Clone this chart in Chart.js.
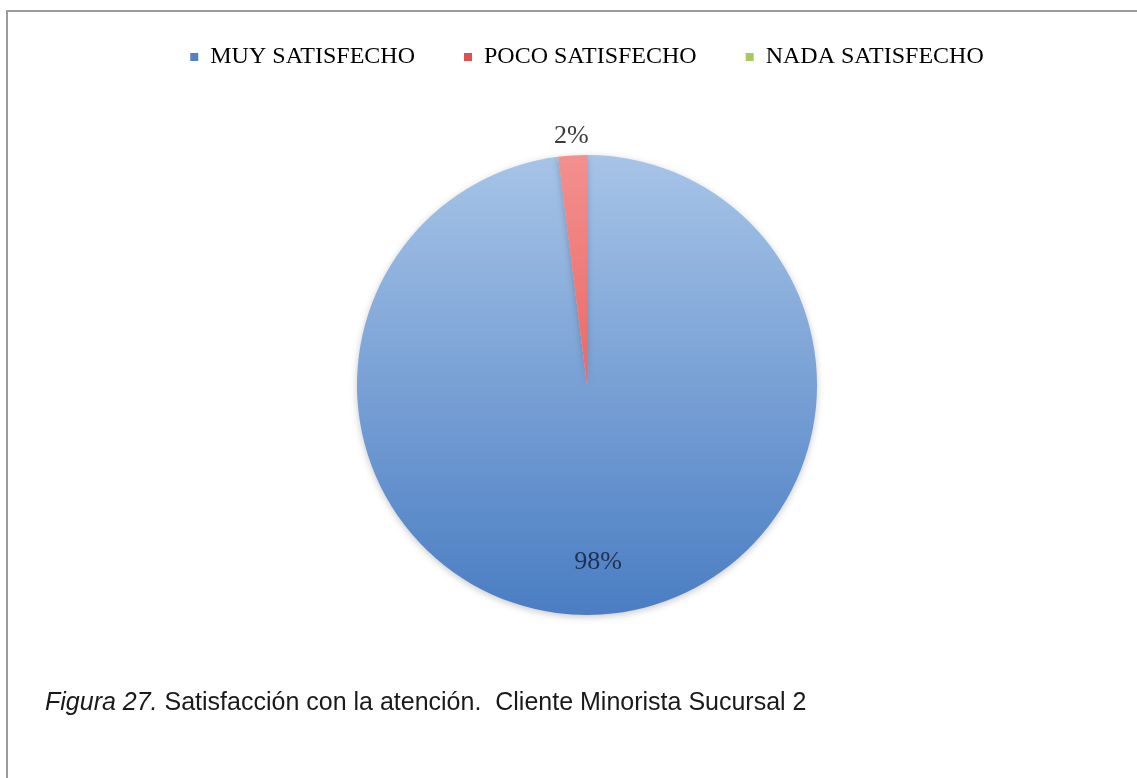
<!DOCTYPE html>
<html lang="es">
<head>
<meta charset="utf-8">
<title>Satisfacción con la atención</title>
<script src="https://cdn.jsdelivr.net/npm/chart.js@4.4.1/dist/chart.umd.min.js"></script>
<style>
  html, body { margin: 0; padding: 0; background: #fff; }
  body { width: 1137px; height: 778px; position: relative; overflow: hidden; }
  .frame { position: absolute; left: 6px; top: 10px; right: -4px; bottom: -4px;
           border-top: 2px solid #9b9b9b; border-left: 2px solid #9b9b9b; }
  #chartWrap { position: absolute; left: 0; top: -4px; width: 1137px; height: 695px; }
  .caption { position: absolute; left: 45px; top: 689px; font-size: 25px; line-height: 25px;
             font-family: "Liberation Sans", Arial, sans-serif; color: #1a1a1a; white-space: pre; }
</style>
</head>
<body>
<div class="frame"></div>
<div id="chartWrap"><canvas id="pieChart"></canvas></div>
<div class="caption"><em>Figura 27.</em> Satisfacción con la atención.  Cliente Minorista Sucursal 2</div>
<script>
// answers and their share of respondents (%)
const categories = ['MUY SATISFECHO', 'POCO SATISFECHO', 'NADA SATISFECHO'];
const percentages = [98, 2, 0];

// palette: legend swatch, gradient top, gradient bottom
const legendColors = ['#5082c4', '#e0504e', '#a6ca62'];
const sliceTop = ['#a7c4e7', '#f3908e', '#c4dd8c'];
const sliceBottom = ['#4a7dc3', '#e2413f', '#8cb04a'];

const PIE_RADIUS = 230;

// vertical gradient spanning the whole pie
function sliceFill(ctx) {
    const chart = ctx.chart;
    const i = ctx.dataIndex;
    const area = chart.chartArea;
    if (!area || i === undefined) return legendColors[i] || legendColors[0];
    const cy = (area.top + area.bottom) / 2;
    const g = chart.ctx.createLinearGradient(0, cy - PIE_RADIUS, 0, cy + PIE_RADIUS);
    g.addColorStop(0, sliceTop[i]);
    g.addColorStop(1, sliceBottom[i]);
    return g;
}

// soft drop shadow under the pie
const pieShadow = {
    id: 'pieShadow',
    beforeDatasetDraw(chart) {
        const ctx = chart.ctx;
        ctx.save();
        ctx.shadowColor = 'rgba(0, 0, 0, 0.22)';
        ctx.shadowBlur = 7;
        ctx.shadowOffsetY = 2;
    },
    afterDatasetDraw(chart) {
        chart.ctx.restore();
    }
};

// percentage labels: big slices inside, thin slices just outside the rim
const sliceLabels = {
    id: 'sliceLabels',
    afterDatasetsDraw(chart) {
        const ctx = chart.ctx;
        const meta = chart.getDatasetMeta(0);
        meta.data.forEach((arc, i) => {
            const v = percentages[i];
            if (!v) return;
            const p = arc.getProps(['x', 'y', 'startAngle', 'endAngle', 'outerRadius'], true);
            const mid = (p.startAngle + p.endAngle) / 2;
            const inside = v >= 10;
            const dist = inside ? p.outerRadius * 0.77 : p.outerRadius + 19;
            ctx.save();
            ctx.font = '26px "Liberation Serif", serif';
            ctx.fillStyle = inside ? '#1f3152' : '#3b3b3b';
            ctx.textAlign = 'center';
            ctx.textBaseline = 'middle';
            ctx.fillText(v + '%', p.x + Math.cos(mid) * dist, p.y + Math.sin(mid) * dist);
            ctx.restore();
        });
    }
};

const chart = new Chart(document.getElementById('pieChart'), {
    type: 'pie',
    data: {
        labels: categories,
        datasets: [{
            data: percentages,
            backgroundColor: sliceFill,
            borderWidth: 0
        }]
    },
    options: {
        responsive: true,
        maintainAspectRatio: false,
        animation: false,
        radius: PIE_RADIUS,
        layout: { padding: { left: 37 } },
        plugins: {
            tooltip: { enabled: false },
            legend: {
                position: 'top',
                labels: {
                    boxWidth: 8,
                    boxHeight: 8,
                    padding: 49,
                    color: '#1a1a1a',
                    font: { family: '"Liberation Serif", serif', size: 24 },
                    generateLabels: () => categories.map((text, i) => ({
                        text: text,
                        fillStyle: legendColors[i],
                        strokeStyle: legendColors[i],
                        lineWidth: 0,
                        hidden: false,
                        index: i
                    }))
                }
            }
        }
    },
    plugins: [pieShadow, sliceLabels]
});
</script>
</body>
</html>
